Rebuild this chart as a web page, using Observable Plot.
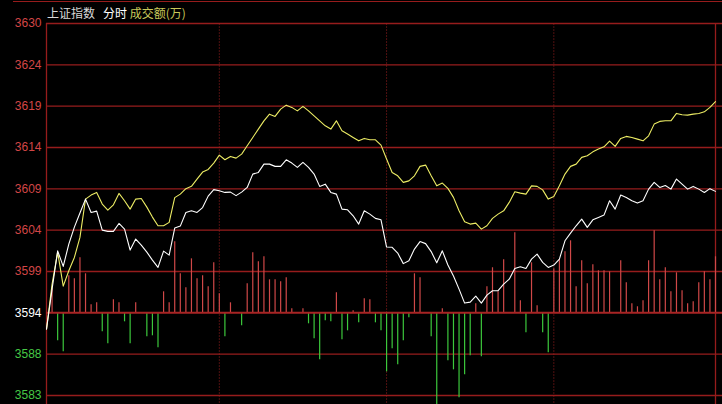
<!DOCTYPE html>
<html><head><meta charset="utf-8">
<script src="https://cdn.jsdelivr.net/npm/d3@7"></script>
<script src="https://cdn.jsdelivr.net/npm/@observablehq/plot@0.6"></script>
<style>
html,body{margin:0;padding:0;background:#000;width:722px;height:404px;overflow:hidden;}
#wrap{position:relative;width:722px;height:404px;background:#000;}
#topline{position:absolute;left:13px;top:1px;width:709px;height:1px;background:#961c1c;}
#title{position:absolute;left:47px;top:5px;font:12px "Noto Sans CJK SC",sans-serif;line-height:15px;white-space:pre;}
#chart{position:absolute;left:0;top:0;}
</style></head>
<body><div id="wrap"><div id="chart"></div><div id="topline"></div>
<div id="title"><span style="color:#d8d8d8">上证指数</span>   <span style="color:#ffffff">分时</span> <span style="color:#c8c85a">成交额(万)</span></div></div>
<script>
// y-axis ticks (price) and their labels
const tickValues = [3583.71, 3588.86, 3594.00, 3599.14, 3604.29, 3609.43, 3614.57, 3619.71, 3624.86, 3630.00];
const tickLabels = ["3583","3588","3594","3599","3604","3609","3614","3619","3624","3630"];
const baseline = 3594.00;
const gridStep = 5.1429;      // price per grid line
const amtPerStep = 500;       // 成交额 units per grid step (display scale)

// minutes since open for line vertices
const minutes = d3.range(0, 241, 2);
// white line (index)
const whiteVals = [3591.97,3596.95,3601.71,3599.77,3602.55,3604.66,3606.41,3608.15,3606.49,3606.65,
3604.29,3604.13,3604.13,3605.12,3604.41,3601.80,3603.17,3602.42,3601.55,3600.56,
3599.65,3601.68,3601.18,3604.54,3604.79,3606.49,3606.69,3606.49,3607.09,3608.52,
3609.33,3609.18,3608.98,3609.02,3608.58,3609.02,3609.60,3611.26,3611.47,3612.50,
3612.50,3612.22,3612.22,3613.04,3612.63,3612.09,3612.71,3612.09,3611.26,3609.73,
3610.01,3608.98,3608.77,3606.90,3606.82,3606.07,3605.04,3606.69,3606.28,3605.75,
3605.57,3602.18,3602.15,3601.43,3600.12,3600.47,3601.93,3602.86,3602.61,3601.62,
3600.22,3601.71,3599.94,3598.57,3596.95,3595.21,3595.33,3596.08,3595.21,3596.20,
3596.74,3596.76,3597.57,3598.19,3599.52,3599.72,3599.52,3600.68,3601.30,3600.27,
3599.65,3599.94,3600.68,3602.96,3603.92,3604.83,3605.66,3604.63,3605.57,3605.87,
3606.16,3607.94,3606.90,3608.65,3608.36,3607.94,3607.65,3607.94,3609.39,3610.23,
3609.60,3609.85,3609.39,3610.64,3610.01,3609.39,3609.73,3609.39,3608.98,3609.45,
3609.11];
// yellow line
const yellowVals = [3591.97,3597.57,3601.55,3597.32,3599.23,3600.89,3603.38,3608.15,3608.65,3608.98,
3607.53,3606.78,3607.44,3608.86,3607.94,3606.90,3608.15,3608.23,3607.15,3605.91,
3604.83,3604.83,3605.25,3608.33,3608.77,3609.45,3609.74,3610.64,3611.51,3611.84,
3612.63,3613.62,3613.04,3613.46,3613.25,3613.75,3614.78,3615.82,3616.86,3617.89,
3618.72,3618.44,3619.35,3619.84,3619.56,3619.13,3619.68,3619.13,3618.51,3617.89,
3617.27,3616.86,3617.89,3616.65,3616.24,3615.82,3615.40,3615.70,3615.53,3615.53,
3614.87,3613.13,3611.47,3611.05,3610.23,3610.42,3611.05,3612.22,3612.38,3611.05,
3609.80,3610.14,3609.48,3608.36,3606.69,3605.32,3605.04,3605.16,3604.41,3604.83,
3605.75,3606.28,3606.69,3607.74,3609.06,3608.89,3608.77,3609.80,3609.73,3609.30,
3608.15,3608.48,3609.80,3611.26,3612.22,3612.50,3613.34,3613.54,3614.03,3614.37,
3614.66,3615.36,3614.71,3615.70,3615.95,3615.82,3615.61,3615.40,3616.02,3617.48,
3617.82,3617.89,3617.89,3618.81,3618.64,3618.60,3618.72,3618.81,3619.01,3619.56,
3620.28];

// 成交额 bars (positive red, negative green)
const barMin = [2,4,6,8,10,12,14,16,18,20,
22,24,26,28,30,32,36,38,40,42,
44,46,48,50,52,54,56,58,60,62,
64,66,70,72,74,76,78,80,82,84,
86,88,92,94,96,98,100,102,104,106,
108,110,112,114,116,118,120,122,124,126,
128,130,132,134,138,140,142,144,146,148,
150,152,154,156,158,160,162,164,168,170,
172,174,176,178,180,182,184,186,188,190,
192,194,196,198,200,202,206,208,210,212,
214,216,218,220,222,224,226,228,230,232,
234,236,238,240];
const barAmt = [290,-339,-472,448,411,666,472,97,121,-230,
-375,157,121,-109,-375,121,-290,-278,-424,254,
121,859,472,303,653,411,448,315,605,230,
-290,121,-157,351,726,617,678,399,399,375,
424,48,48,-133,-315,-569,-97,-109,242,-327,
-218,24,-121,169,157,-121,-218,-714,-436,-629,
-339,-61,472,424,-290,-1113,48,-581,-690,-1029,
-750,-520,109,-532,315,545,254,641,968,145,
-242,605,85,-242,-484,532,641,738,871,315,
629,351,581,508,508,496,629,363,109,73,
145,629,992,399,545,254,484,266,109,133,
363,496,399,678];

const sessionDividers = [62, 122, 182];

const whiteData = minutes.map((m, k) => ({m, v: whiteVals[k]}));
const yellowData = minutes.map((m, k) => ({m, v: yellowVals[k]}));
const bars = barMin.map((m, k) => ({m, a: barAmt[k]}));
const ticks = tickValues.map((v, k) => ({v, label: tickLabels[k],
  color: v > baseline + 0.01 ? "#d24646" : (v < baseline - 0.01 ? "#46c846" : "#ffffff")}));

const gridColor = "#961c1c";
const chart = Plot.plot({
  width: 722, height: 404,
  marginLeft: 46, marginRight: 7, marginTop: 23, marginBottom: 9,
  style: {background: "#000", overflow: "visible"},
  x: {domain: [0, 240], axis: null},
  y: {domain: [tickValues[0], tickValues[tickValues.length - 1]], axis: null},
  color: {type: "identity"},
  marks: [
    Plot.ruleY(tickValues.filter(v => Math.abs(v - baseline) > 0.01), {x1: 0, x2: 242.6, stroke: gridColor, strokeWidth: 1.3}),
    Plot.ruleX([0, 240], {y1: 3582.4, y2: tickValues[tickValues.length - 1], stroke: gridColor, strokeWidth: 1.3}),
    Plot.ruleX(sessionDividers, {y1: 3582.4, y2: tickValues[tickValues.length - 1], stroke: "#a02020", strokeWidth: 1, strokeDasharray: "1,2"}),
    Plot.ruleX(bars, {x: "m", y1: () => baseline, y2: d => baseline + d.a * gridStep / amtPerStep,
      stroke: d => d.a >= 0 ? "#d04848" : "#3cc83c", strokeWidth: 1.2}),
    Plot.ruleY([baseline], {x1: 0, x2: 242.6, stroke: "#a82424", strokeWidth: 2}),
    Plot.line(yellowData, {x: "m", y: "v", stroke: "#ecec64", strokeWidth: 1.1}),
    Plot.line(whiteData, {x: "m", y: "v", stroke: "#ffffff", strokeWidth: 1.1}),
    Plot.text(ticks, {y: "v", text: "label", fill: "color", frameAnchor: "left", textAnchor: "end", dx: -5,
      fontSize: 12, fontFamily: "Liberation Sans, Arial, sans-serif"})
  ]
});
document.getElementById("chart").appendChild(chart);
</script>
</body></html>
